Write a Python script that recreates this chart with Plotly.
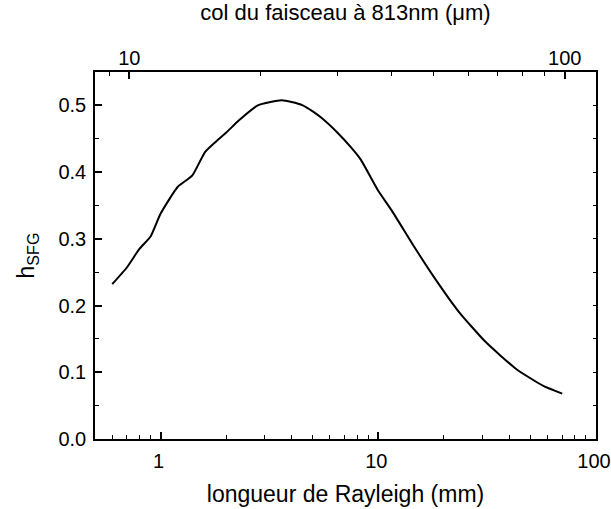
import plotly.graph_objects as go

# Data
rayleigh_mm = [0.6, 0.7, 0.8, 0.9, 1.0, 1.2, 1.4, 1.6, 1.8, 2.0, 2.3, 2.8, 3.2, 3.6,
               4.0, 4.5, 5.0, 5.5, 6.5, 7.5, 8.3, 10, 11.5, 14.7, 18, 23.4, 31, 43, 57, 70]
h_sfg = [0.232, 0.257, 0.285, 0.3035, 0.3375, 0.378, 0.395, 0.430, 0.446, 0.459,
         0.478, 0.500, 0.505, 0.5075, 0.505, 0.5, 0.491, 0.481, 0.459, 0.437,
         0.419, 0.372, 0.343, 0.287, 0.243, 0.191, 0.146, 0.105, 0.080, 0.068]

bottom_major = [1, 10, 100]
bottom_minor = [0.6, 0.7, 0.8, 0.9, 2, 3, 4, 5, 6, 7, 8, 9, 20, 30, 40, 50, 60, 70, 80, 90]
top_major = [10, 100]
top_minor = [9, 20, 30, 40, 50, 60, 70, 80, 90]
y_major = [0.0, 0.1, 0.2, 0.3, 0.4, 0.5]
y_minor = [0.05, 0.15, 0.25, 0.35, 0.45]
y_right = [0.05, 0.1, 0.15, 0.2, 0.25, 0.3, 0.35, 0.4, 0.45, 0.5]

FONT = "Liberation Sans, Arial, sans-serif"

fig = go.Figure()
fig.add_trace(go.Scatter(x=rayleigh_mm, y=h_sfg, mode="lines",
                         line=dict(color="black", width=2, shape="spline", smoothing=0.5),
                         showlegend=False, hoverinfo="skip"))
# empty helper traces so the top and right axes get drawn
fig.add_trace(go.Scatter(x=[], y=[], xaxis="x2", yaxis="y", showlegend=False))
fig.add_trace(go.Scatter(x=[], y=[], xaxis="x", yaxis="y3", showlegend=False))

fig.update_layout(
    width=611, height=509,
    margin=dict(l=95, r=15, t=72, b=70),
    paper_bgcolor="white", plot_bgcolor="white",
    font=dict(family=FONT, size=20, color="black"),
    showlegend=False,
    xaxis=dict(
        type="log", range=[-0.30103, 2.0002], automargin=False,
        tickvals=bottom_major, ticktext=["1", "10", "100"],
        ticks="inside", ticklen=7, tickwidth=1.5, tickcolor="black",
        minor=dict(tickvals=bottom_minor, ticks="inside", ticklen=4,
                   tickwidth=1.2, tickcolor="black", showgrid=False),
        showline=True, linecolor="black", linewidth=1.5,
        showgrid=False, zeroline=False, ticklabeloverflow="allow",
        ticklabelstandoff=3, ticklabelshift=-2,
        tickfont=dict(size=20),
        title=dict(text="longueur de Rayleigh (mm)", font=dict(size=23), standoff=15),
    ),
    xaxis2=dict(
        type="log", range=[0.9212, 2.0717], overlaying="x", side="top", anchor="y",
        automargin=False, ticklabeloverflow="allow",
        tickvals=top_major, ticktext=["10", "100"],
        ticks="inside", ticklen=7, tickwidth=1.5, tickcolor="black",
        minor=dict(tickvals=top_minor, ticks="inside", ticklen=4,
                   tickwidth=1.2, tickcolor="black", showgrid=False),
        showline=True, linecolor="black", linewidth=1.5,
        showgrid=False, zeroline=False,
        ticklabelstandoff=-3,
        tickfont=dict(size=20),
        title=dict(text="col du faisceau à 813nm (μm)", font=dict(size=22), standoff=23),
    ),
    yaxis=dict(
        range=[0, 0.55], automargin=False,
        tickvals=y_major, ticktext=["0.0", "0.1", "0.2", "0.3", "0.4", "0.5"],
        ticks="inside", ticklen=7, tickwidth=1.5, tickcolor="black",
        minor=dict(tickvals=y_minor, ticks="inside", ticklen=4,
                   tickwidth=1.2, tickcolor="black", showgrid=False),
        showline=True, linecolor="black", linewidth=1.5,
        showgrid=False, zeroline=False, ticklabelstandoff=3,
        tickfont=dict(size=20),
        title=dict(text="h<sub>SFG</sub>", font=dict(size=23), standoff=17),
    ),
    yaxis3=dict(
        range=[0, 0.55], overlaying="y", side="right", anchor="x", automargin=False,
        tickvals=y_right, showticklabels=False,
        ticks="inside", ticklen=3, tickwidth=1.2, tickcolor="black",
        showline=True, linecolor="black", linewidth=1.5,
        showgrid=False, zeroline=False,
    ),
)

fig.write_html("out.html", config={"displayModeBar": False},
               post_script="document.body.style.margin='0';")
